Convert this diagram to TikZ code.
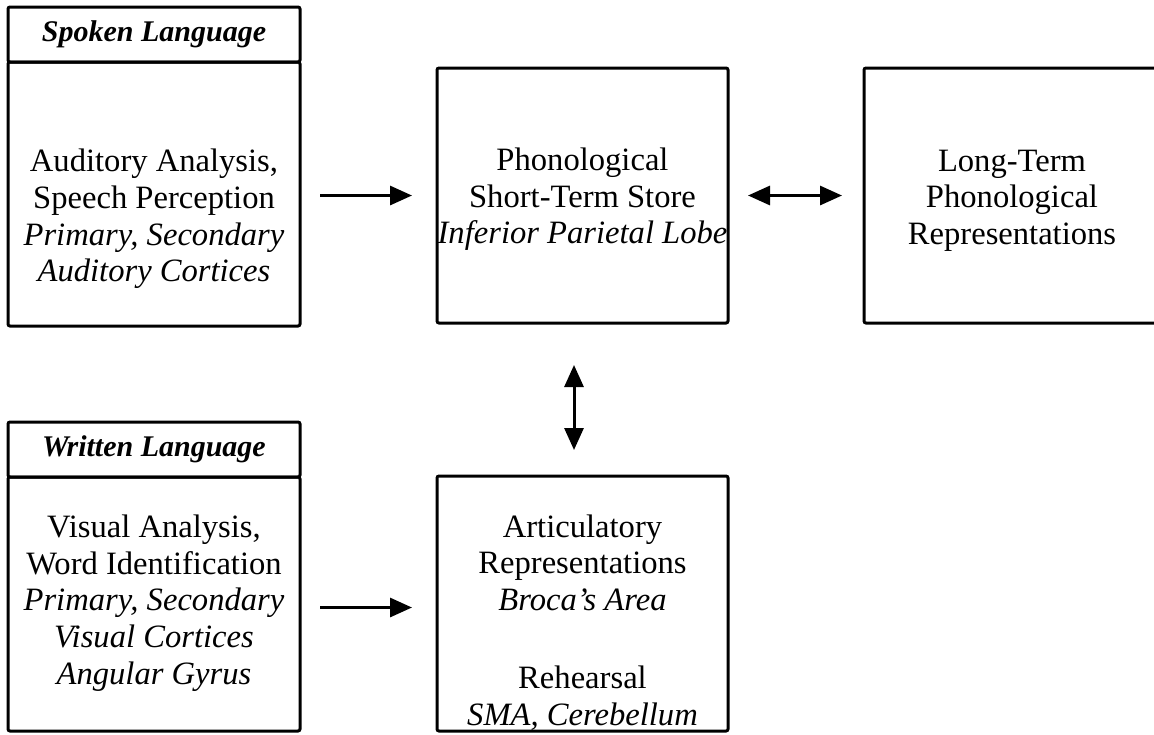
\documentclass[tikz,border=0pt]{standalone}
\usepackage{fontspec}
\setmainfont{Liberation Serif}
\usetikzlibrary{positioning, calc, arrows.meta}

\begin{document}
\begin{tikzpicture}[
    x=0.5pt, y=-0.5pt,
    box/.style={draw,line width=1.5pt,rounded corners=1pt,inner sep=0pt,outer sep=0pt},
    head/.style={font=\fontsize{15}{17}\selectfont\bfseries\itshape},
    txt/.style={align=center,inner sep=0pt,font=\fontsize{16.3}{18.3}\selectfont},
    arr/.style={-{Triangle[length=11pt,width=9.5pt]},line width=1.5pt},
    darr/.style={{Triangle[length=11pt,width=9.5pt]}-{Triangle[length=11pt,width=9.5pt]},line width=1.5pt}
  ]
  \useasboundingbox (0,0) rectangle (1154,734);
  \node[box,head,minimum width=146pt,minimum height=27.5pt] (shead) at (154,34.5) {Spoken Language};
  \node[box,minimum width=146pt,minimum height=132pt] (sbody) at (154,194) {};
  \node[box,head,minimum width=146pt,minimum height=27.5pt] (whead) at (154,449.5) {Written Language};
  \node[box,minimum width=146pt,minimum height=127pt] (wbody) at (154,604) {};
  \node[box,minimum width=145.5pt,minimum height=127.5pt] (pst) at (582.5,195.5) {};
  \node[box,minimum width=145.5pt,minimum height=127.5pt] (art) at (582.5,603.5) {};
  \node[box,minimum width=148pt,minimum height=127.5pt] (ltp) at (1012,195.5) {};

  \node[txt] (stxt) at ([yshift=-12.5pt]sbody.center) {Auditory Analysis,\\ Speech Perception\\ \textit{Primary, Secondary}\\ \textit{Auditory Cortices}};
  \node[txt] (wtxt) at ([yshift=0.5pt]wbody.center) {Visual Analysis,\\ Word Identification\\ \textit{Primary, Secondary}\\ \textit{Visual Cortices}\\ \textit{Angular Gyrus}};
  \node[txt] (psttxt) at ([yshift=-2pt]pst.center) {Phonological\\ Short-Term Store\\ \textit{Inferior Parietal Lobe}};
  \node[txt] (arttxt) at ([yshift=-9.5pt]art.center) {Articulatory\\ Representations\\ \textit{Broca's Area}\\[21pt] Rehearsal\\ \textit{SMA, Cerebellum}};
  \node[txt] (ltptxt) at ([yshift=-2.5pt]ltp.center) {Long-Term\\ Phonological\\ Representations};

  \draw[arr,shorten <=10pt,shorten >=12.5pt] (sbody.east |- pst.west) -- (pst.west);
  \draw[darr,shorten <=10pt,shorten >=11pt] (pst.east) -- (ltp.west);
  \draw[darr,shorten <=21pt,shorten >=13pt] ([xshift=-4.25pt]pst.south) -- ([xshift=-4.25pt]art.north);
  \draw[arr,shorten <=10pt,shorten >=12.5pt] ([yshift=-2pt]wbody.east |- art.west) -- ([yshift=-2pt]art.west);
\end{tikzpicture}
\end{document}
